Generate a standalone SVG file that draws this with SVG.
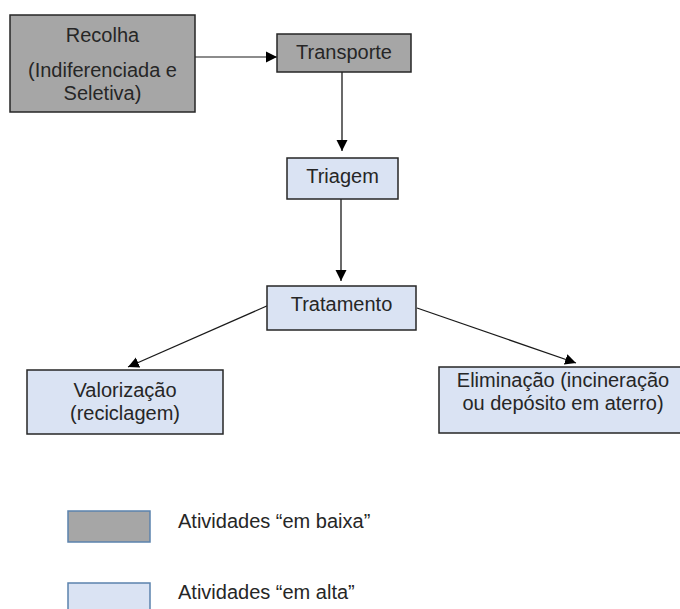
<svg xmlns="http://www.w3.org/2000/svg" width="680" height="609" viewBox="0 0 680 609">
  <style>
    .low { fill: #a6a6a6; stroke: #262626; stroke-width: 1.5; }
    .high { fill: #dae3f3; stroke: #262626; stroke-width: 1.5; }
    .key-low { fill: #a6a6a6; stroke: #5b82ad; stroke-width: 1.5; }
    .key-high { fill: #dae3f3; stroke: #5b82ad; stroke-width: 1.5; }
    text { font-family: "Liberation Sans", Arial, sans-serif; font-size: 20px; fill: #262626; }
    .c { text-anchor: middle; }
    .edge { stroke: #1a1a1a; stroke-width: 1.3; fill: none; marker-end: url(#arrow); }
  </style>
  <defs>
    <marker id="arrow" markerUnits="userSpaceOnUse" markerWidth="12" markerHeight="12" viewBox="0 0 12 12" refX="11" refY="6" orient="auto">
      <path d="M0,0.5 L11,6 L0,11.5 Z" fill="#000"/>
    </marker>
  </defs>

  <rect width="680" height="609" fill="#ffffff"/>

  <g id="connectors">
    <line class="edge" x1="195" y1="57" x2="277" y2="57" style="stroke:#666"/>
    <line class="edge" x1="342" y1="72" x2="342" y2="151"/>
    <line class="edge" x1="341" y1="199" x2="341" y2="281"/>
    <line class="edge" x1="269" y1="305" x2="128" y2="367"/>
    <line class="edge" x1="417" y1="308" x2="576" y2="363"/>
  </g>

  <g id="recolha">
    <rect class="low" x="10" y="15" width="185" height="97"/>
    <text class="c" x="102.5" y="42">Recolha</text>
    <text class="c" x="102.5" y="77">(Indiferenciada e</text>
    <text class="c" x="102.5" y="100">Seletiva)</text>
  </g>

  <g id="transporte">
    <rect class="low" x="277" y="34" width="134" height="38"/>
    <text class="c" x="344" y="59">Transporte</text>
  </g>

  <g id="triagem">
    <rect class="high" x="287" y="158" width="111" height="41"/>
    <text class="c" x="342.5" y="183">Triagem</text>
  </g>

  <g id="tratamento">
    <rect class="high" x="267" y="286" width="149" height="44"/>
    <text class="c" x="341.5" y="311">Tratamento</text>
  </g>

  <g id="valorizacao">
    <rect class="high" x="27" y="370" width="196" height="64"/>
    <text class="c" x="125" y="397">Valorização</text>
    <text class="c" x="125" y="420">(reciclagem)</text>
  </g>

  <g id="eliminacao">
    <rect class="high" x="439" y="367" width="250" height="66"/>
    <text class="c" x="563" y="387">Eliminação (incineração</text>
    <text class="c" x="563" y="410">ou depósito em aterro)</text>
  </g>

  <g id="legend-baixa">
    <rect class="key-low" x="68" y="511" width="82" height="31"/>
    <text x="178" y="528">Atividades “em baixa”</text>
  </g>

  <g id="legend-alta">
    <rect class="key-high" x="68" y="583" width="82" height="31"/>
    <text x="178" y="599">Atividades “em alta”</text>
  </g>
</svg>
